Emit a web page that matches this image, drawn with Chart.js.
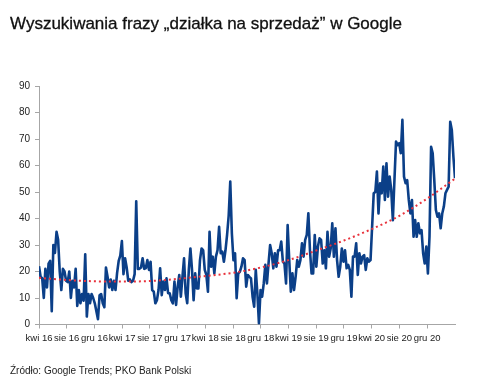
<!DOCTYPE html>
<html>
<head>
<meta charset="utf-8">
<script src="https://cdn.jsdelivr.net/npm/chart.js@4/dist/chart.umd.min.js"></script>
<style>
  html, body { margin: 0; padding: 0; background: #fff; }
  #wrap { position: relative; width: 480px; height: 386px; overflow: hidden; }
  #c { position: absolute; left: 0; top: 0; }
  #title { position: absolute; left: 10px; top: 14px; font-family: "Liberation Sans", Arial, sans-serif; font-size: 17px; color: #111; white-space: nowrap; -webkit-text-stroke: 0.3px #111; }
  #source { position: absolute; left: 10px; top: 365px; font-family: "Liberation Sans", Arial, sans-serif; font-size: 10px; color: #222; white-space: nowrap; }
</style>
</head>
<body>
<div id="wrap">
  <canvas id="c" width="480" height="386"></canvas>
  <div id="title">Wyszukiwania frazy „działka na sprzedaż” w Google</div>
  <div id="source">Źródło: Google Trends; PKO Bank Polski</div>
</div>
<script>
// Weekly Google Trends index, starting April 2016
const searches = [
  22, 18, 17.5, 10, 21, 14, 23, 24, 5, 30, 27, 35, 32, 20, 13, 21, 20, 16.5, 16, 20,
  10, 16.5, 14, 21, 7, 13, 8, 11.5, 9, 26.5, 3, 11.5, 8, 11.5, 10, 8, 5, 2, 11, 11.5,
  8, 6.5, 21.5, 18, 14, 17, 13, 16.5, 13, 19.5, 24, 26, 31.5, 19, 25, 21.5, 16.5, 17, 16, 16.5,
  19, 46.5, 21, 21, 21.5, 25, 21,
  21.2, 24.3, 20.6, 23.7, 13, 12.4, 8, 9.2, 13, 21.2, 11.1, 16.2, 13, 17.4, 11.8, 11.8, 9.2, 8, 16.2, 7.4,
  14.3, 18.7, 10.5, 18, 25, 11.8, 8, 20.6, 28.7, 20.6, 9.2, 19.3, 13.6, 13.6, 24.3, 28.7, 28, 20.6, 18.7, 12.4,
  35, 21.8, 25.6, 19.3, 25.6, 28, 36.9, 26.9, 27.5, 23.7, 28, 33.8, 41, 53.9, 34.4, 24.3, 26.9, 9.9, 19.3, 19.9,
  21.8, 25, 24.3, 14.3, 18.7, 18,
  17.4, 10.5, 6.7, 20.6, 11.8, 0.4, 13, 10.5, 15.5, 22.5, 15.5, 23, 30, 26.9, 21.2, 26.9, 21.8, 28, 28, 31.3,
  23.7, 23, 15.5, 37.5, 24.3, 12.4, 19.3, 13, 18, 24.3, 21.8, 24.3, 30.6, 25.6, 31.9, 33.8, 42, 28, 19.3, 19.3,
  33.8, 21.8, 29.4, 32.5, 31.9, 23, 28, 21.2, 35, 25.6, 28.7, 38.2, 25.6, 36.3, 24.3, 18, 21.8, 28.7, 23.7, 28,
  21.2, 22.5, 20.6, 10.5, 25.6,
  25.6, 30.6, 18.7, 26.9, 23, 25.6, 26.2, 20.6, 25, 23.7, 24.3, 36.9, 49.5, 50, 57.7, 41.9, 53.3, 49.5, 59.6, 47,
  60.8, 48.2, 55.8, 50.8, 39.4, 54.5, 69, 67.7, 68.4, 64.6, 77.2, 55.8, 53.3, 54.5, 47, 41.9, 47, 33.1, 39.4, 33.1,
  38.2, 34.4, 35.6, 26.9, 23, 29.4, 19.3, 33.1, 67.1, 64.6, 54.5, 43.2, 40.7, 41.9, 36.3, 41.9, 44.5, 49.5, 50.8, 52,
  76.5, 73.4, 63.3, 55.2
];

// Trend line (read at each 4-month tick plus the end)
const trendMonths = [0, 4, 8, 12, 16, 20, 24, 28, 32, 36, 40, 44, 48, 52, 56, 60];
const trendValues = [17.6, 16.8, 16.3, 16.2, 16.4, 17.2, 18.3, 19.5, 21.5, 24.3, 27.9, 31.7, 36, 41, 47.5, 55];

// X tick positions (months since April 2016) and labels
const tickMonths = [0, 4, 8, 12, 16, 20, 24, 28, 32, 36, 40, 44, 48, 52, 56];
const tickLabels = ["kwi 16", "sie 16", "gru 16", "kwi 17", "sie 17", "gru 17", "kwi 18", "sie 18", "gru 18",
                    "kwi 19", "sie 19", "gru 19", "kwi 20", "sie 20", "gru 20"];

const WEEK_IN_MONTHS = 7 / 30.4375;
const lineData = searches.map((v, i) => ({ x: i * WEEK_IN_MONTHS, y: v }));
const trendData = trendMonths.map((m, i) => ({ x: m, y: trendValues[i] }));
const xMax = (searches.length - 1) * WEEK_IN_MONTHS;

const axisGray = '#a6a6a6';
const labelFont = { family: '"Liberation Sans", Arial, sans-serif', size: 10 };

new Chart(document.getElementById('c'), {
  type: 'line',
  data: {
    datasets: [
      {
        data: lineData,
        borderColor: '#0b3f88',
        borderWidth: 2.6,
        pointRadius: 0,
        tension: 0,
        borderJoinStyle: 'round',
        order: 2
      },
      {
        data: trendData,
        borderColor: '#e8323c',
        borderWidth: 2,
        borderDash: [2, 3],
        pointRadius: 0,
        cubicInterpolationMode: 'monotone',
        order: 1
      }
    ]
  },
  options: {
    responsive: false,
    animation: false,
    events: [],
    layout: { padding: { top: 86, left: 0, right: 25, bottom: 41.5 } },
    plugins: { legend: { display: false }, tooltip: { enabled: false } },
    scales: {
      x: {
        type: 'linear',
        min: 0,
        max: xMax,
        afterBuildTicks: (s) => { s.ticks = tickMonths.map(v => ({ value: v })); },
        afterFit: (s) => { s.height = 20; },
        grid: { drawOnChartArea: false, drawTicks: true, tickLength: 4, color: axisGray },
        border: { color: axisGray, width: 1 },
        ticks: {
          autoSkip: false,
          maxRotation: 0,
          padding: 4,
          color: '#222',
          font: { family: '"Liberation Sans", Arial, sans-serif', size: 9.5 },
          callback: (v, i) => tickLabels[i]
        }
      },
      y: {
        min: 0,
        max: 90,
        afterFit: (s) => { s.width = 39; },
        grid: { drawOnChartArea: false, drawTicks: true, tickLength: 4, color: axisGray },
        border: { color: axisGray, width: 1 },
        ticks: { stepSize: 10, padding: 5, color: '#222', font: labelFont }
      }
    }
  }
});
</script>
</body>
</html>
